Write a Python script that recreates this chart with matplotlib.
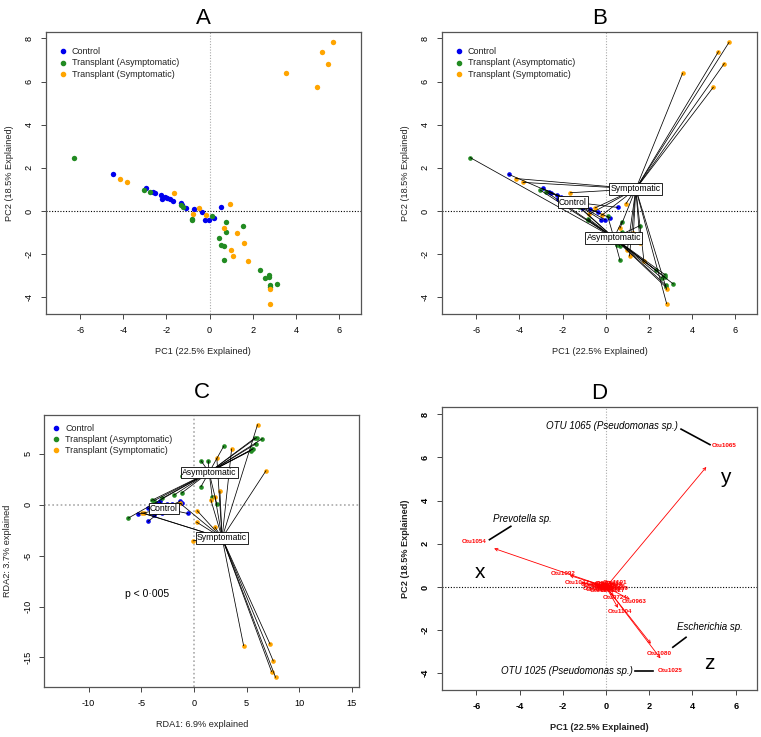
"""
Four-panel ordination figure (PCA, spider plot, RDA, biplot) - matplotlib.
Writes out.png (761x737).
"""
import numpy as np
import matplotlib
matplotlib.use("Agg")
import matplotlib.pyplot as plt

plt.rcParams["font.family"] = ["Liberation Sans", "DejaVu Sans"]
plt.rcParams["axes.unicode_minus"] = False

GROUPS = ["Control", "Transplant (Asymptomatic)", "Transplant (Symptomatic)"]
CENTROID_LABELS = ["Control", "Asymptomatic", "Symptomatic"]
COLORS = ["#0000ee", "#228b22", "#ffa500"]

# PCA scores (panels A, B)
ctrl_pc1 = [-4.49, -2.93, -2.64, -2.55, -2.27, -2.21, -2.07, -1.96, -1.84, -1.69,
            -1.34, -1.28, -1.10, -0.74, -0.36, -0.22, -0.02, 0.20, 0.55]
ctrl_pc2 = [1.70, 1.05, 0.87, 0.85, 0.76, 0.56, 0.66, 0.59, 0.54, 0.48,
            0.36, 0.30, 0.14, 0.08, -0.06, -0.40, -0.40, -0.31, 0.17]
asym_pc1 = [-6.28, -3.03, -2.76, -1.31, -1.22, -0.80, -0.82, 0.09, 0.74, 1.57, 0.74,
            0.43, 0.52, 0.66, 0.66, 2.33, 2.76, 2.59, 2.75, 3.13, 2.79, 2.79]
asym_pc2 = [2.48, 0.97, 0.89, 0.28, 0.17, -0.35, -0.40, -0.24, -0.49, -0.68, -0.96,
            -1.27, -1.57, -1.64, -2.28, -2.75, -2.96, -3.10, -3.07, -3.38, -3.44, -3.53]
symp_pc1 = [5.71, 5.22, 5.49, 3.56, 4.98, -4.17, -3.83, -1.64, -0.49, 0.94,
            -0.19, -0.77, 0.66, 1.28, 1.59, 1.00, 1.10, 1.77, 2.82, 2.82]
symp_pc2 = [7.82, 7.39, 6.84, 6.39, 5.74, 1.51, 1.33, 0.85, 0.15, 0.35,
            -0.20, -0.15, -0.79, -1.03, -1.48, -1.79, -2.08, -2.33, -3.63, -4.29]

# RDA scores (panel C)
ctrl_rda1 = [-5.28, -4.34, -4.34, -3.80, -3.07, -3.23, -2.59, -2.12, -1.65, -1.17,
             -1.33, -0.60, -3.50, -2.90]
ctrl_rda2 = [-0.92, -0.36, -1.64, -0.98, -0.85, 0.33, 0.10, 0.07, -0.39, 0.16,
             0.33, -0.85, 0.20, -0.20]
asym_rda1 = [5.79, 5.95, 6.49, 5.85, 5.63, 5.38, 5.55, 2.82, 0.70, 1.36,
             -1.11, 0.66, 1.74, 2.18, -1.17, -1.90, -3.04, -3.80, -4.02, -6.23]
asym_rda2 = [6.56, 6.59, 6.49, 5.97, 5.51, 5.31, 5.45, 5.74, 4.30, 4.30,
             2.82, 1.77, 0.75, 0.03, 1.15, 0.95, 0.62, 0.39, 0.43, -1.31]
symp_rda1 = [6.04, 3.58, 2.18, 6.84, 2.47, 1.61, 2.00, 0.32, 0.25, 2.00,
             -0.06, -1.33, -4.97, -4.70, 4.72, 7.22, 7.53, 7.37, 7.75]
symp_rda2 = [7.87, 5.48, 4.56, 3.34, 1.31, 0.49, 0.80, -0.59, -1.70, -2.20,
             -3.54, 0.16, -0.79, -0.85, -13.84, -13.67, -15.34, -16.39, -16.95]

# OTU loadings (panel D)
otu_names = ["Otu1065", "Otu1054", "Otu1080", "Otu1025", "Otu1092", "Otu1047",
             "Otu0963", "Otu1104", "Otu0724",
             "Otu1012", "Otu1031", "Otu0987", "Otu1003", "Otu0941", "Otu1118",
             "Otu0876", "Otu1059", "Otu0912", "Otu1076", "Otu0999", "Otu1127",
             "Otu0958", "Otu1040", "Otu0890", "Otu1101"]
otu_pc1 = [5.46, -6.10, 2.44, 2.96, -1.98, -1.36, 1.30, 0.65, 0.42,
           -0.62, -0.45, -0.30, -0.15, 0.05, 0.20, 0.35, 0.45, -0.50, -0.20,
           0.10, 0.30, -0.05, 0.15, -0.35, 0.40]
otu_pc2 = [6.54, 2.10, -3.09, -3.89, 0.63, 0.22, -0.68, -1.14, -0.51,
           0.12, 0.05, 0.18, 0.08, 0.15, 0.10, 0.04, -0.08, -0.05, -0.15,
           -0.12, -0.18, 0.02, -0.05, -0.10, 0.20]

W, H = 761, 737
fig = plt.figure(figsize=(W / 100, H / 100), dpi=100)


def px_axes(left, top, right, bottom):
    return fig.add_axes([left / W, 1 - bottom / H, (right - left) / W, (bottom - top) / H])


def style(ax, xlim, ylim, xticks, yticks, xlabel, ylabel, title, tpad=6, bold=False):
    ax.set_xlim(xlim)
    ax.set_ylim(ylim)
    w = "bold" if bold else "normal"
    ax.set_xticks(xticks)
    ax.set_xticklabels([str(t) for t in xticks], fontsize=6.6, fontweight=w)
    ax.set_yticks(yticks)
    ax.set_yticklabels([str(t) for t in yticks], fontsize=6.6, fontweight=w,
                       rotation=90, va="center")
    ax.tick_params(length=3.5, width=0.7, color="#444444", pad=5)
    for s in ax.spines.values():
        s.set_color("#555555")
        s.set_linewidth(0.9)
    ax.set_xlabel(xlabel, fontsize=6.6, fontweight=w, labelpad=9, color="#222222")
    ax.set_ylabel(ylabel, fontsize=6.6, fontweight=w, labelpad=8, color="#222222")
    ax.set_title(title, fontsize=16, pad=tpad)


def zero_lines(ax, hcol="black", vcol="#aaaaaa", lw=0.8):
    ax.axvline(0, color=vcol, ls=(0, (1, 1.5)), lw=lw, zorder=1)
    ax.axhline(0, color=hcol, ls=(0, (1, 1.5)), lw=lw, zorder=1)


def legend(ax, x, y):
    for i, (g, c) in enumerate(zip(GROUPS, COLORS)):
        yy = y - i * 0.04
        ax.scatter([x], [yy], s=9, color=c, transform=ax.transAxes, zorder=5)
        ax.text(x + 0.028, yy, g, transform=ax.transAxes, fontsize=6.5,
                va="center", ha="left", color="#222222", zorder=5)


def spider(ax, xs, ys, s):
    for (x, y), c, lab in zip(zip(xs, ys), COLORS, CENTROID_LABELS):
        x = np.asarray(x)
        y = np.asarray(y)
        cx, cy = x.mean(), y.mean()
        ax.scatter(x, y, s=s, color=c, zorder=2, linewidths=0)
        for xi, yi in zip(x, y):
            ax.plot([cx, xi], [cy, yi], color="black", lw=0.55, zorder=3)
        ax.text(cx, cy, lab, fontsize=6.2, ha="center", va="center", zorder=4,
                bbox=dict(boxstyle="square,pad=0.15", fc="white", ec="black", lw=0.6))


pc_x = [ctrl_pc1, asym_pc1, symp_pc1]
pc_y = [ctrl_pc2, asym_pc2, symp_pc2]
pc_ticks_x = [-6, -4, -2, 0, 2, 4, 6]
pc_ticks_y = [-4, -2, 0, 2, 4, 6, 8]
PC_XL = (-7.6, 7.02)
PC_YL = (-4.77, 8.3)

# A
ax = px_axes(45.7, 32, 361, 314)
style(ax, PC_XL, PC_YL, pc_ticks_x, pc_ticks_y,
      "PC1 (22.5% Explained)", "PC2 (18.5% Explained)", "A")
zero_lines(ax)
for x, y, c in zip(pc_x, pc_y, COLORS):
    ax.scatter(x, y, s=15, color=c, zorder=2, linewidths=0)
legend(ax, 0.055, 0.931)

# B
ax = px_axes(441.7, 32, 757.3, 314)
style(ax, PC_XL, PC_YL, pc_ticks_x, pc_ticks_y,
      "PC1 (22.5% Explained)", "PC2 (18.5% Explained)", "B")
zero_lines(ax)
spider(ax, pc_x, pc_y, 11)
legend(ax, 0.055, 0.931)

# C
ax = px_axes(44.3, 414.7, 359.3, 687)
style(ax, (-14.2, 15.7), (-17.9, 8.85), [-10, -5, 0, 5, 10, 15], [-15, -10, -5, 0, 5],
      "RDA1: 6.9% explained", "RDA2: 3.7% explained", "C", tpad=12)
zero_lines(ax, hcol="#aaaaaa", vcol="#aaaaaa", lw=1.2)
spider(ax, [ctrl_rda1, asym_rda1, symp_rda1], [ctrl_rda2, asym_rda2, symp_rda2], 11)
legend(ax, 0.038, 0.95)
ax.text(-4.4, -8.75, "p < 0\u00b7005", fontsize=7.5, ha="center", va="center")

# D
ax = px_axes(441.7, 407.3, 757.3, 690)
style(ax, (-7.61, 7.0), (-4.77, 8.32), pc_ticks_x, pc_ticks_y,
      "PC1 (22.5% Explained)", "PC2 (18.5% Explained)", "D", bold=True)
zero_lines(ax)
for name, x, y in zip(otu_names, otu_pc1, otu_pc2):
    ax.annotate("", xy=(0.85 * x, 0.85 * y), xytext=(0, 0),
                arrowprops=dict(arrowstyle="->", color="red", lw=0.6,
                                mutation_scale=5, shrinkA=0, shrinkB=0), zorder=2)
    ax.text(x, y, name, color="red", fontsize=4.5, fontweight="bold",
            ha="center", va="center", zorder=3)

notes = [("OTU 1065 (Pseudomonas sp.)", 0.29, 7.47, (3.47, 4.81), (7.31, 6.59)),
         ("Prevotella sp.", -3.89, 3.16, (-4.41, -5.40), (2.81, 2.19)),
         ("Escherichia sp.", 4.83, -1.85, (3.70, 3.09), (-2.33, -2.79)),
         ("OTU 1025 (Pseudomonas sp.)", -1.79, -3.87, (1.36, 2.16), (-3.90, -3.90))]
for txt, tx, ty, lx, ly in notes:
    ax.text(tx, ty, txt, fontsize=7, style="italic", ha="center", va="center")
    ax.plot(lx, ly, color="black", lw=1.2)
for lab, lx, ly in [("x", -5.83, 0.69), ("y", 5.51, 5.05), ("z", 4.78, -3.56)]:
    ax.text(lx, ly, lab, fontsize=15, ha="center", va="center")

fig.savefig("out.png", dpi=100, facecolor="white")
